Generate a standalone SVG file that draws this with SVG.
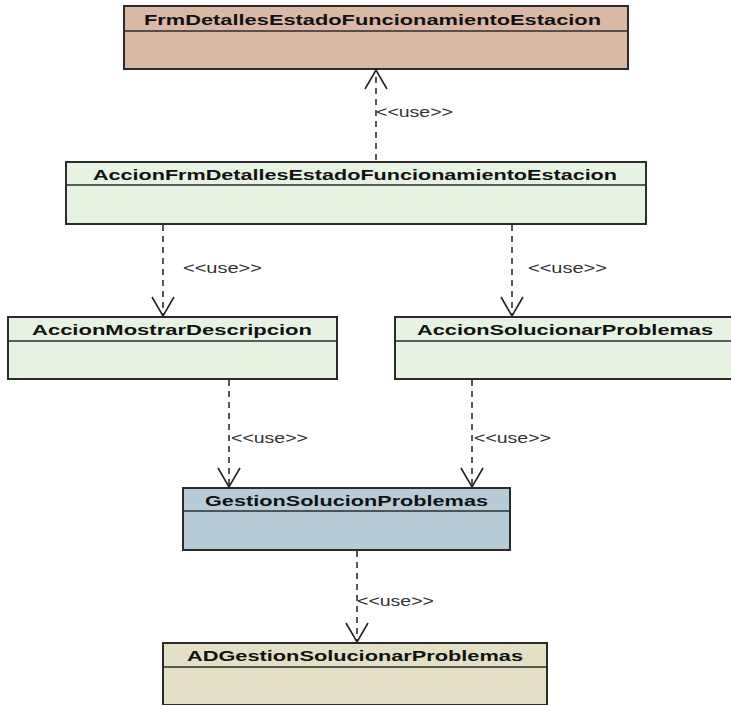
<svg xmlns="http://www.w3.org/2000/svg" width="731" height="705" viewBox="0 0 731 705">
  <style>
    .box { stroke: #2b2b2b; stroke-width: 2; }
    .sep { stroke: #2b2b2b; stroke-width: 1.5; }
    .title { font-family: "Liberation Sans", Arial, sans-serif; font-size: 15px; font-weight: bold; fill: #111; }
    .dep { fill: none; stroke: #222; stroke-width: 1.5; stroke-dasharray: 6 5; }
    .head { fill: none; stroke: #222; stroke-width: 1.6; }
    .lbl { font-family: "Liberation Sans", Arial, sans-serif; font-size: 14px; fill: #333; }
    .frm { fill: #d9b8a5; }
    .acc { fill: #e6f3e3; }
    .ges { fill: #b8ccd7; }
    .ad { fill: #e3e0c5; }
  </style>
  <rect width="731" height="705" fill="#ffffff"/>

  <g id="FrmDetallesEstadoFuncionamientoEstacion">
    <rect class="box frm" x="124" y="6" width="504" height="63"/>
    <line class="sep" x1="124" y1="31" x2="628" y2="31"/>
    <text class="title" x="144" y="25" textLength="457" lengthAdjust="spacingAndGlyphs">FrmDetallesEstadoFuncionamientoEstacion</text>
  </g>

  <g id="AccionFrmDetallesEstadoFuncionamientoEstacion">
    <rect class="box acc" x="66" y="162" width="580" height="62"/>
    <line class="sep" x1="66" y1="185" x2="646" y2="185"/>
    <text class="title" x="93" y="180" textLength="524" lengthAdjust="spacingAndGlyphs">AccionFrmDetallesEstadoFuncionamientoEstacion</text>
  </g>

  <g id="AccionMostrarDescripcion">
    <rect class="box acc" x="8" y="317" width="329" height="62"/>
    <line class="sep" x1="8" y1="341" x2="337" y2="341"/>
    <text class="title" x="32" y="335" textLength="280" lengthAdjust="spacingAndGlyphs">AccionMostrarDescripcion</text>
  </g>

  <g id="AccionSolucionarProblemas">
    <rect class="box acc" x="395" y="317" width="340" height="62"/>
    <line class="sep" x1="395" y1="341" x2="735" y2="341"/>
    <text class="title" x="417" y="335" textLength="296" lengthAdjust="spacingAndGlyphs">AccionSolucionarProblemas</text>
  </g>

  <g id="GestionSolucionProblemas">
    <rect class="box ges" x="183" y="488" width="327" height="62"/>
    <line class="sep" x1="183" y1="511" x2="510" y2="511"/>
    <text class="title" x="205" y="506" textLength="283" lengthAdjust="spacingAndGlyphs">GestionSolucionProblemas</text>
  </g>

  <g id="ADGestionSolucionarProblemas">
    <rect class="box ad" x="163" y="643" width="384" height="62"/>
    <line class="sep" x1="163" y1="667" x2="547" y2="667"/>
    <text class="title" x="187" y="661" textLength="336" lengthAdjust="spacingAndGlyphs">ADGestionSolucionarProblemas</text>
  </g>

  <g id="connectors">
    <!-- Accion Frm -> Frm form -->
    <line class="dep" x1="376" y1="160" x2="376" y2="70"/>
    <polyline class="head" points="365,89 376,70 387,89"/>
    <text class="lbl" x="376" y="117" textLength="77" lengthAdjust="spacingAndGlyphs">&lt;&lt;use&gt;&gt;</text>

    <!-- Accion Frm -> AccionMostrarDescripcion -->
    <line class="dep" x1="163" y1="225" x2="163" y2="316"/>
    <polyline class="head" points="152,297 163,316 174,297"/>
    <text class="lbl" x="183" y="273" textLength="79" lengthAdjust="spacingAndGlyphs">&lt;&lt;use&gt;&gt;</text>

    <!-- Accion Frm -> AccionSolucionarProblemas -->
    <line class="dep" x1="512" y1="225" x2="512" y2="316"/>
    <polyline class="head" points="501,297 512,316 523,297"/>
    <text class="lbl" x="528" y="273" textLength="79" lengthAdjust="spacingAndGlyphs">&lt;&lt;use&gt;&gt;</text>

    <!-- AccionMostrarDescripcion -> GestionSolucionProblemas -->
    <line class="dep" x1="229" y1="380" x2="229" y2="487"/>
    <polyline class="head" points="218,468 229,487 240,468"/>
    <text class="lbl" x="231" y="443" textLength="77" lengthAdjust="spacingAndGlyphs">&lt;&lt;use&gt;&gt;</text>

    <!-- AccionSolucionarProblemas -> GestionSolucionProblemas -->
    <line class="dep" x1="472" y1="380" x2="472" y2="487"/>
    <polyline class="head" points="461,468 472,487 483,468"/>
    <text class="lbl" x="474" y="443" textLength="77" lengthAdjust="spacingAndGlyphs">&lt;&lt;use&gt;&gt;</text>

    <!-- GestionSolucionProblemas -> ADGestionSolucionarProblemas -->
    <line class="dep" x1="357" y1="551" x2="357" y2="642"/>
    <polyline class="head" points="346,623 357,642 368,623"/>
    <text class="lbl" x="357" y="606" textLength="77" lengthAdjust="spacingAndGlyphs">&lt;&lt;use&gt;&gt;</text>
  </g>
</svg>
